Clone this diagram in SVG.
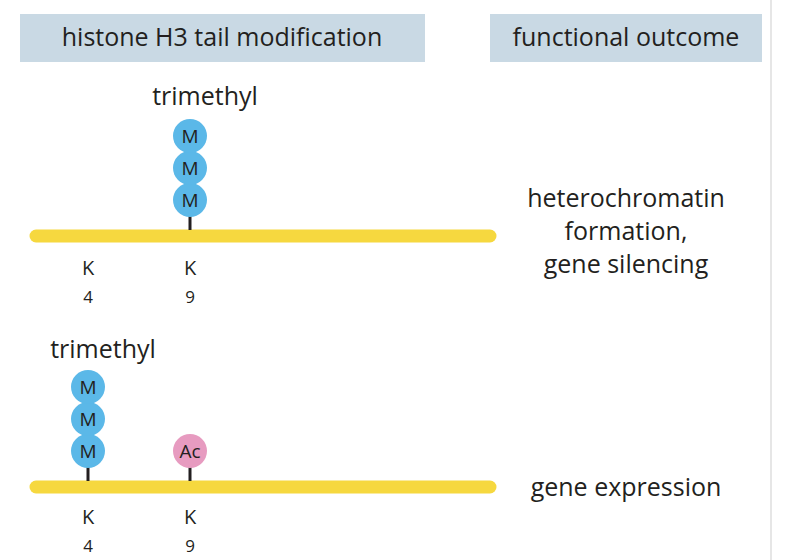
<svg xmlns="http://www.w3.org/2000/svg" width="790" height="560" viewBox="0 0 790 560">
<style>
text{font-family:"Open Sans","Liberation Sans",sans-serif;fill:#231f20}
.h{font-size:25px}
.l{font-size:25px;text-anchor:middle}
.k{font-size:20px;text-anchor:middle}
.n{font-size:17px;text-anchor:middle}
.m{font-size:19px;text-anchor:middle}
.me{fill:#5bb8e8}
.ac{fill:#e79bc0}
.bar{stroke:#f6d83f;stroke-width:13;stroke-linecap:round}
.t{stroke:#231f20;stroke-width:3}
</style>
<rect width="790" height="560" fill="#fff"/>
<line x1="771" y1="0" x2="771" y2="560" stroke="#e6e6e6" stroke-width="2"/>
<g id="header1"><rect x="20" y="14" width="405" height="48" fill="#c9d9e4"/><text class="h" x="222" y="46" text-anchor="middle">histone H3 tail modification</text></g>
<g id="header2"><rect x="490" y="14" width="272" height="48" fill="#c9d9e4"/><text class="h" x="626" y="46" text-anchor="middle">functional outcome</text></g>
<g id="connectors">
<line class="bar" x1="36" y1="236" x2="490" y2="236"/>
<line class="t" x1="190" y1="216" x2="190" y2="230"/>
<line class="bar" x1="36" y1="487" x2="490" y2="487"/>
<line class="t" x1="88" y1="466" x2="88" y2="481"/>
<line class="t" x1="190" y1="466" x2="190" y2="481"/>
</g>
<g id="top-mod">
<text class="l" x="205" y="105">trimethyl</text>
<circle class="me" cx="190" cy="200" r="17"/><circle class="me" cx="190" cy="168" r="17"/><circle class="me" cx="190" cy="136" r="17"/>
<text class="m" x="190" y="143">M</text><text class="m" x="190" y="175">M</text><text class="m" x="190" y="207">M</text>
</g>
<g id="top-labels">
<text class="k" x="88" y="275">K</text><text class="k" x="190" y="275">K</text>
<text class="n" x="88" y="303">4</text><text class="n" x="190" y="303">9</text>
</g>
<g id="top-outcome"><text class="l" x="626" y="207">heterochromatin</text><text class="l" x="626" y="240">formation,</text><text class="l" x="626" y="273">gene silencing</text></g>
<g id="bottom-mod">
<text class="l" x="103" y="358">trimethyl</text>
<circle class="me" cx="88" cy="451" r="17"/><circle class="me" cx="88" cy="419" r="17"/><circle class="me" cx="88" cy="387" r="17"/>
<text class="m" x="88" y="394">M</text><text class="m" x="88" y="426">M</text><text class="m" x="88" y="458">M</text>
<circle class="ac" cx="190" cy="451" r="17"/><text class="m" x="190" y="458">Ac</text>
</g>
<g id="bottom-labels">
<text class="k" x="88" y="524">K</text><text class="k" x="190" y="524">K</text>
<text class="n" x="88" y="552">4</text><text class="n" x="190" y="552">9</text>
</g>
<g id="bottom-outcome"><text class="l" x="626" y="496">gene expression</text></g>
</svg>
